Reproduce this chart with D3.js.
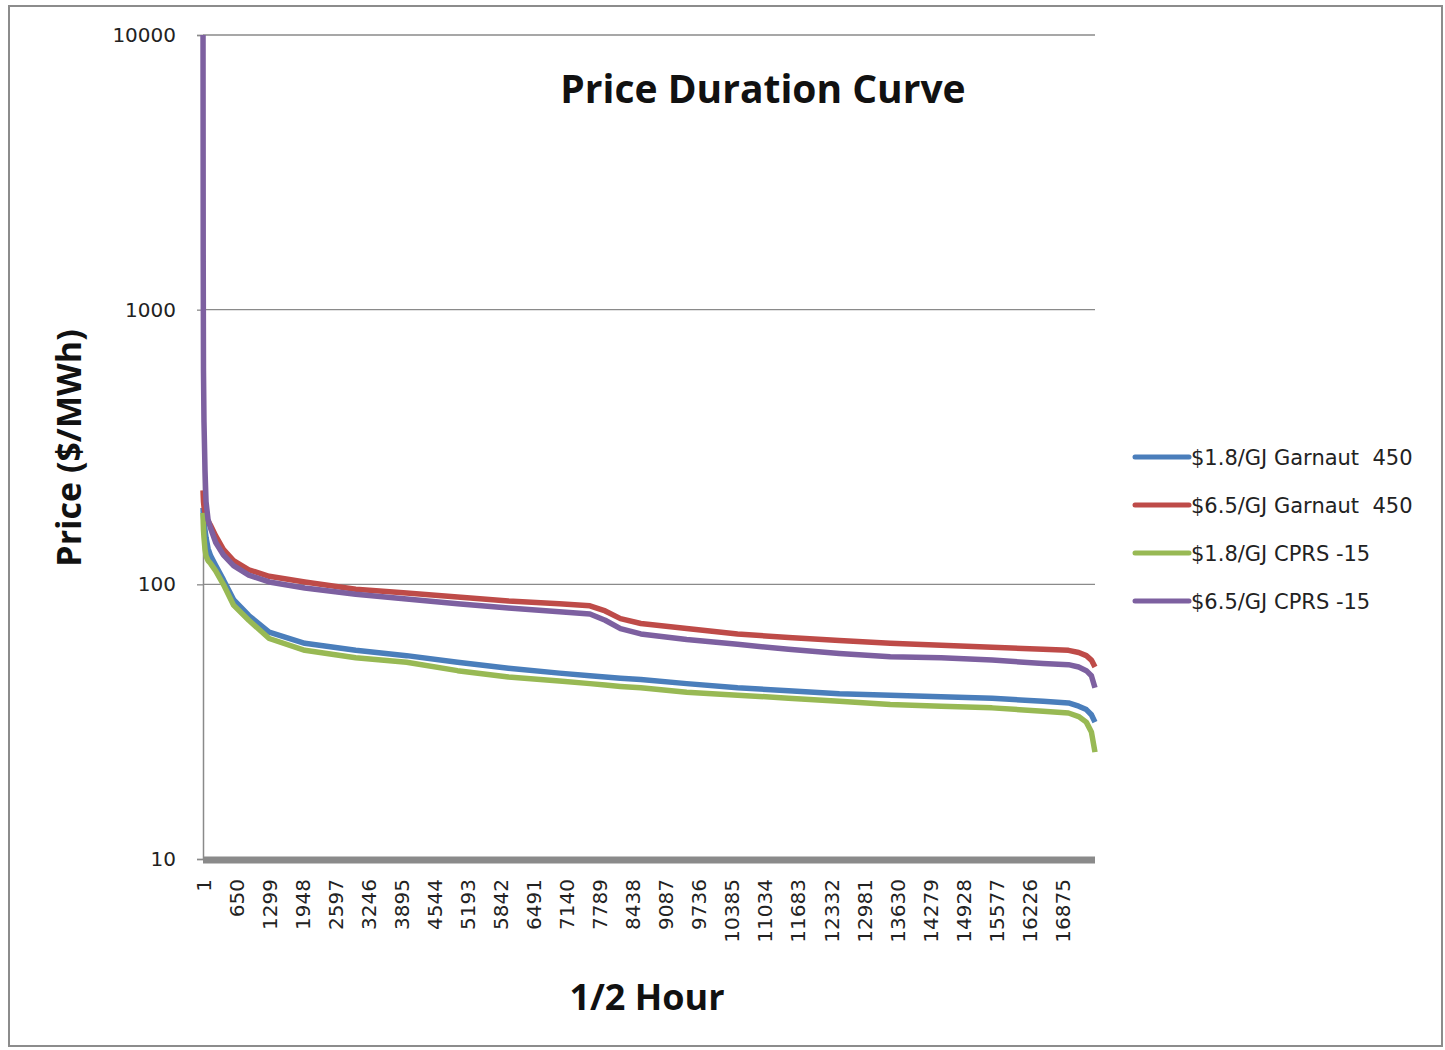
<!DOCTYPE html>
<html>
<head>
<meta charset="utf-8">
<script src="https://cdn.jsdelivr.net/npm/d3@7"></script>
<style>
  body { margin: 0; background: #fff; }
  svg { display: block; }
</style>
</head>
<body>
<script>
// half-hour index of each reading (sorted price duration)
var halfHours = [1, 5, 10, 20, 40, 60, 100, 150, 250, 400, 600, 900, 1300, 2000, 3000, 4000, 5000, 6000, 7000, 7600, 7900, 8200, 8600, 9500, 10500, 11500, 12500, 13500, 14500, 15500, 16500, 17000, 17200, 17350, 17450, 17520];

var seriesNames = ["$1.8/GJ Garnaut  450", "$6.5/GJ Garnaut  450", "$1.8/GJ CPRS -15", "$6.5/GJ CPRS -15"];

// $/MWh
var garnaut18 = [190, 182, 176, 168, 158, 148, 135, 127, 117, 104, 88, 77, 67, 61, 57.5, 55, 52, 49.5, 47.5, 46.5, 46, 45.5, 45, 43.5, 42, 41, 40, 39.5, 39, 38.5, 37.5, 37, 36, 35, 33.5, 31.5];
var garnaut65 = [220, 210, 200, 192, 182, 176, 170, 164, 150, 134, 122, 113, 107, 102, 96, 93, 90, 87, 85, 83.5, 80, 75, 72, 69, 66, 64, 62.5, 61, 60, 59, 58, 57.5, 56.5, 55, 53, 50];
var cprs18 = [182, 168, 158, 148, 134, 127, 122, 119, 112, 100, 84, 74, 63.5, 57.5, 54, 52, 48.5, 46, 44.5, 43.5, 43, 42.5, 42, 40.5, 39.5, 38.5, 37.5, 36.5, 36, 35.5, 34.5, 34, 33, 31.5, 29, 24.5];
var cprs65 = [10000, 1500, 600, 390, 260, 200, 172, 160, 142, 128, 117, 108, 102, 97, 92, 88.5, 85, 82, 79.5, 78, 74, 69, 66, 63, 60.5, 58, 56, 54.5, 54, 53, 51.5, 51, 50, 48.5, 46.5, 42];

var colors = ["#4A7EBB", "#BE4B48", "#98B954", "#7D60A0"];

var yTicks = [10, 100, 1000, 10000];
var totalHalfHours = 17520;
var xLabelStep = 649;

var width = 1445, height = 1050;
var plotLeft = 203, plotRight = 1095, plotTop = 35, plotBottom = 859;

var svg = d3.select("body").append("svg")
  .attr("width", width)
  .attr("height", height);

// chart frame
svg.append("rect")
  .attr("x", 9).attr("y", 6)
  .attr("width", 1433).attr("height", 1040)
  .attr("fill", "#fff")
  .attr("stroke", "#8c8c8c")
  .attr("stroke-width", 2);

var x = d3.scaleLinear().domain([0.5, totalHalfHours + 0.5]).range([plotLeft, plotRight]);
var y = d3.scaleLog().domain([10, 10000]).range([plotBottom, plotTop]);

// gridlines
svg.append("g").selectAll("line")
  .data(yTicks.slice(1))
  .enter().append("line")
  .attr("x1", plotLeft).attr("x2", plotRight)
  .attr("y1", function (d) { return y(d); })
  .attr("y2", function (d) { return y(d); })
  .attr("stroke", "#8a8a8a")
  .attr("stroke-width", 1.3);

// y axis
var yAxis = svg.append("g")
  .attr("transform", "translate(" + plotLeft + ",0)")
  .call(d3.axisLeft(y).tickValues(yTicks).tickFormat(d3.format("d")).tickSize(6).tickPadding(21));
yAxis.select(".domain").attr("stroke", "#8a8a8a").attr("stroke-width", 1.5);
yAxis.selectAll(".tick line").attr("stroke", "#8a8a8a").attr("stroke-width", 1.3);
yAxis.selectAll("text")
  .style("font-family", "DejaVu Sans, sans-serif")
  .style("font-size", "20px")
  .attr("fill", "#222");

// x axis: labels every 649 half hours
var xLabels = d3.range(1, totalHalfHours, xLabelStep);
var xAxis = svg.append("g")
  .attr("transform", "translate(0," + plotBottom + ")")
  .call(d3.axisBottom(x).tickValues(xLabels).tickFormat(d3.format("d")).tickSize(0));
xAxis.select(".domain").remove();
xAxis.selectAll("text")
  .style("font-family", "DejaVu Sans, sans-serif")
  .style("font-size", "20px")
  .attr("fill", "#222")
  .attr("text-anchor", "end")
  .attr("transform", "rotate(-90)")
  .attr("x", -20)
  .attr("y", 0)
  .attr("dy", "0.36em");

// thick category axis bar
svg.append("line")
  .attr("x1", plotLeft).attr("x2", plotRight)
  .attr("y1", plotBottom + 1).attr("y2", plotBottom + 1)
  .attr("stroke", "#8a8a8a")
  .attr("stroke-width", 7);

// series lines
var series = [garnaut18, garnaut65, cprs18, cprs65];
var line = d3.line()
  .x(function (d, i) { return x(halfHours[i]); })
  .y(function (d) { return y(d); });

svg.append("g").selectAll("path")
  .data(series)
  .enter().append("path")
  .attr("d", line)
  .attr("fill", "none")
  .attr("stroke", function (d, i) { return colors[i]; })
  .attr("stroke-width", 5.5)
  .attr("stroke-linejoin", "round");

// title
svg.append("text")
  .attr("x", 763).attr("y", 103)
  .attr("text-anchor", "middle")
  .style("font-family", "Open Sans, sans-serif")
  .style("font-weight", "bold")
  .style("font-size", "39px")
  .attr("fill", "#111")
  .text("Price Duration Curve");

// axis titles
svg.append("text")
  .attr("transform", "translate(81,448) rotate(-90)")
  .attr("text-anchor", "middle")
  .style("font-family", "Open Sans, sans-serif")
  .style("font-weight", "bold")
  .style("font-size", "34px")
  .attr("fill", "#111")
  .text("Price ($/MWh)");

svg.append("text")
  .attr("x", 647).attr("y", 1010)
  .attr("text-anchor", "middle")
  .style("font-family", "Open Sans, sans-serif")
  .style("font-weight", "bold")
  .style("font-size", "36px")
  .attr("fill", "#111")
  .text("1/2 Hour");

// legend
var legend = svg.append("g").selectAll("g")
  .data(seriesNames)
  .enter().append("g")
  .attr("transform", function (d, i) { return "translate(1135," + (457 + i * 48) + ")"; });
legend.append("line")
  .attr("x1", 0).attr("x2", 54)
  .attr("stroke", function (d, i) { return colors[i]; })
  .attr("stroke-width", 5)
  .attr("stroke-linecap", "round");
legend.append("text")
  .attr("x", 56).attr("dy", "0.36em")
  .style("font-family", "DejaVu Sans, sans-serif")
  .style("font-size", "21px")
  .style("white-space", "pre")
  .attr("fill", "#222")
  .text(function (d) { return d; });
</script>
</body>
</html>
